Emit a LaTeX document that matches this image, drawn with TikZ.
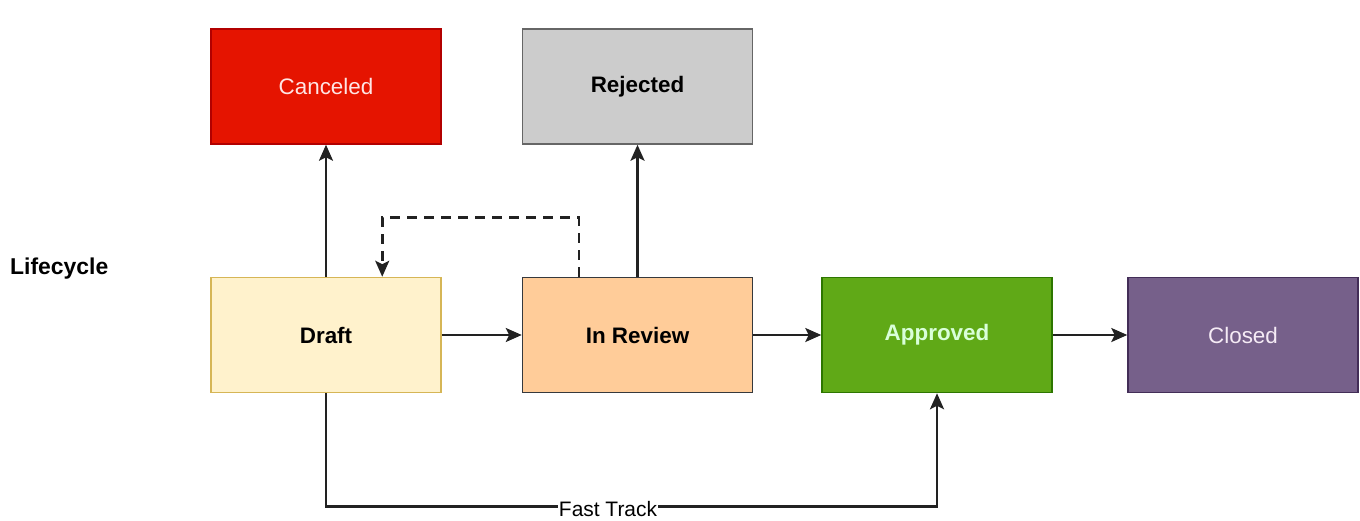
\documentclass[tikz,border=0pt]{standalone}
\usepackage{fontspec}
\setmainfont{Liberation Sans}
\usetikzlibrary{arrows.meta,calc}
\definecolor{cancelfill}{HTML}{E51400}
\definecolor{canceldraw}{HTML}{B20000}
\definecolor{rejfill}{HTML}{CCCCCC}
\definecolor{rejdraw}{HTML}{666666}
\definecolor{draftfill}{HTML}{FFF2CC}
\definecolor{draftdraw}{HTML}{D6B656}
\definecolor{reviewfill}{HTML}{FFCC99}
\definecolor{reviewdraw}{HTML}{36393D}
\definecolor{apprfill}{HTML}{60A917}
\definecolor{apprdraw}{HTML}{2D7600}
\definecolor{closedfill}{HTML}{76608A}
\definecolor{closeddraw}{HTML}{432D57}
\definecolor{linecol}{HTML}{222222}
\begin{document}
\begin{tikzpicture}[x=1bp,y=-1bp,
  state/.style={rectangle, minimum width=230bp, minimum height=115bp, line width=1.5bp,
    inner sep=0pt, font=\fontsize{22.5}{26}\selectfont},
  boldstate/.style={state, font=\fontsize{22.5}{26}\selectfont\bfseries},
  flow/.style={line width=2.5bp, draw=linecol,
    -{Stealth[length=16bp,width=14bp,inset=3.5bp]}},
  dashflow/.style={flow, dash pattern=on 10bp off 7bp}]
\useasboundingbox[fill=white] (0,0) rectangle (1360,521);

% lifecycle states
\node[state, fill=cancelfill, draw=canceldraw, text=white!90!red] (cancel) at (326,86.5) {Canceled};
\node[boldstate, fill=rejfill, draw=rejdraw] (reject) at (637.5,86.5) {Rejected};
\node[boldstate, fill=draftfill, draw=draftdraw] (draft) at (326,335) {Draft};
\node[boldstate, fill=reviewfill, draw=reviewdraw] (review) at (637.5,335) {In Review};
\node[boldstate, fill=apprfill, draw=apprdraw, text=white!85!green] (approved) at (937,335) {Approved};
\node[state, fill=closedfill, draw=closeddraw, text=white!92!violet] (closed) at (1243,335) {Closed};

\node[font=\fontsize{23}{26}\selectfont\bfseries, anchor=west, inner sep=0pt] (title) at (10,269) {Lifecycle};

% transitions
\draw[flow] (draft.north) -- (cancel.south);
\draw[flow] (review.north) -- (reject.south);
\draw[flow] (draft.east) -- (review.west);
\draw[flow] (review.east) -- (approved.west);
\draw[flow] (approved.east) -- (closed.west);

% send back for rework
\coordinate (backstart) at ($(review.north west)+(57,0)$);
\coordinate (backend) at ($(draft.north west)+(172,0)$);
\draw[dashflow] (backstart) -- ++(0,-59) -| (backend);

% fast track
\coordinate (ftdown) at ($(draft.south)+(0,113)$);
\draw[flow] (draft.south) -- (ftdown) -| (approved.south);
\node[fill=white, inner sep=1pt, font=\fontsize{21}{24}\selectfont] (ftlabel) at (608,509) {Fast Track};
\end{tikzpicture}
\end{document}
